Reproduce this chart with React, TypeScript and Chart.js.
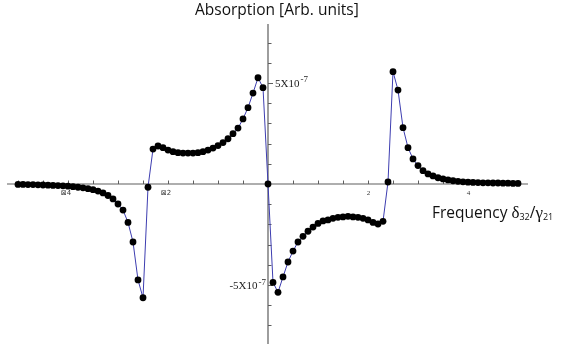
import React, { useEffect, useRef } from "react";
import { Chart, registerables } from "chart.js";

Chart.register(...registerables);

// Frequency δ32/γ21
const frequency = [
  -5.0, -4.9, -4.8, -4.7, -4.6, -4.5, -4.4, -4.3, -4.2, -4.1,
  -4.0, -3.9, -3.8, -3.7, -3.6, -3.5, -3.4, -3.3, -3.2, -3.1,
  -3.0, -2.9, -2.8, -2.7, -2.6, -2.5, -2.4, -2.3, -2.2, -2.1,
  -2.0, -1.9, -1.8, -1.7, -1.6, -1.5, -1.4, -1.3, -1.2, -1.1,
  -1.0, -0.9, -0.8, -0.7, -0.6, -0.5, -0.4, -0.3, -0.2, -0.1,
  0.0, 0.1, 0.2, 0.3, 0.4, 0.5, 0.6, 0.7, 0.8, 0.9,
  1.0, 1.1, 1.2, 1.3, 1.4, 1.5, 1.6, 1.7, 1.8, 1.9,
  2.0, 2.1, 2.2, 2.3, 2.4, 2.5, 2.6, 2.7, 2.8, 2.9,
  3.0, 3.1, 3.2, 3.3, 3.4, 3.5, 3.6, 3.7, 3.8, 3.9,
  4.0, 4.1, 4.2, 4.3, 4.4, 4.5, 4.6, 4.7, 4.8, 4.9,
  5.0,
];

// Absorption, in units of 1e-7 (arb.)
const absorption = [
  -0.02, -0.02, -0.03, -0.03, -0.04, -0.05, -0.06, -0.07, -0.08, -0.09,
  -0.11, -0.13, -0.16, -0.19, -0.23, -0.28, -0.35, -0.44, -0.57, -0.74,
  -0.99, -1.29, -1.90, -2.87, -4.75, -5.63, -0.16, 1.73, 1.88, 1.80,
  1.68, 1.60, 1.55, 1.53, 1.53, 1.53, 1.55, 1.60, 1.68, 1.78,
  1.90, 2.05, 2.24, 2.49, 2.77, 3.22, 3.78, 4.50, 5.26, 4.77,
  0.00, -4.87, -5.36, -4.60, -3.86, -3.32, -2.87, -2.59, -2.34, -2.13,
  -1.95, -1.83, -1.78, -1.70, -1.65, -1.63, -1.60, -1.63, -1.65, -1.70,
  -1.78, -1.90, -1.98, -1.85, 0.10, 5.56, 4.65, 2.79, 1.80, 1.24,
  0.91, 0.66, 0.50, 0.40, 0.31, 0.25, 0.20, 0.16, 0.13, 0.11,
  0.09, 0.08, 0.07, 0.06, 0.06, 0.05, 0.05, 0.04, 0.04, 0.03,
  0.03,
];

const xMinorTicks = [
  -5, -4.5, -4, -3.5, -3, -2.5, -2, -1.5, -1, -0.5,
  0.5, 1, 1.5, 2, 2.5, 3, 3.5, 4, 4.5, 5,
];
const xLabelValues = [-4, -2, 2, 4];
const xLabelTexts = ["\u22A04", "\u22A02", "2", "4"];

const yMinorTicks = [-7, -6, -5, -4, -3, -2, -1, 1, 2, 3, 4, 5, 6, 7];
const yLabelValues = [5, -5];
const yLabelMantissas = ["5X10", "-5X10"];
const yLabelExponent = "-7";

const titleText = "Absorption [Arb. units]";
const xTitleMain = "Frequency ";

const X_RANGE = 5.2;
const Y_RANGE = 7.92;

const axesPlugin = {
  id: "mathAxes",
  beforeDatasetsDraw(chart: any) {
    const ctx = chart.ctx as CanvasRenderingContext2D;
    const xs = chart.scales.x;
    const ys = chart.scales.y;
    const x0 = xs.getPixelForValue(0);
    const y0 = ys.getPixelForValue(0);
    ctx.save();
    ctx.strokeStyle = "#5e5e5e";
    ctx.lineWidth = 1.2;
    // axis lines
    ctx.beginPath();
    ctx.moveTo(xs.getPixelForValue(-X_RANGE) - 1, y0);
    ctx.lineTo(xs.getPixelForValue(X_RANGE), y0);
    ctx.moveTo(x0, ys.getPixelForValue(Y_RANGE));
    ctx.lineTo(x0, ys.getPixelForValue(-Y_RANGE));
    ctx.stroke();
    // ticks
    ctx.lineWidth = 1;
    ctx.beginPath();
    xMinorTicks.forEach((v) => {
      const px = Math.round(xs.getPixelForValue(v)) + 0.5;
      ctx.moveTo(px, y0);
      ctx.lineTo(px, y0 - 3.5);
    });
    yMinorTicks.forEach((v) => {
      const py = Math.round(ys.getPixelForValue(v)) + 0.5;
      const len = Math.abs(v) === 5 ? 5 : 3.5;
      ctx.moveTo(x0, py);
      ctx.lineTo(x0 + len, py);
    });
    ctx.stroke();

    // x tick labels
    ctx.fillStyle = "#333";
    ctx.font = "7px 'DejaVu Serif', serif";
    ctx.textAlign = "center";
    ctx.textBaseline = "alphabetic";
    xLabelValues.forEach((v, i) => {
      const px = xs.getPixelForValue(v);
      const shift = v < 0 ? -2 : 0.5;
      ctx.font = v < 0 ? "7px 'DejaVu Sans', sans-serif" : "7px 'Liberation Serif', serif";
      ctx.fillText(xLabelTexts[i], px + shift, y0 + 10.5);
    });

    // y tick labels
    ctx.fillStyle = "#222";
    yLabelValues.forEach((v, i) => {
      const py = ys.getPixelForValue(v);
      const mant = yLabelMantissas[i];
      ctx.font = "11px 'Liberation Serif', serif";
      const mw = ctx.measureText(mant).width;
      ctx.font = "9px 'Liberation Serif', serif";
      const ew = ctx.measureText(yLabelExponent).width;
      let left: number;
      if (v > 0) left = x0 + 7;
      else left = x0 - 2 - mw - ew - 1;
      ctx.textAlign = "left";
      ctx.font = "11px 'Liberation Serif', serif";
      ctx.fillText(mant, left, py + 4);
      ctx.font = "9px 'Liberation Serif', serif";
      ctx.fillText(yLabelExponent, left + mw + 1, py - 0.5);
    });
    ctx.restore();
  },
  afterDraw(chart: any) {
    const ctx = chart.ctx as CanvasRenderingContext2D;
    const xs = chart.scales.x;
    const ys = chart.scales.y;
    const x0 = xs.getPixelForValue(0);
    const y0 = ys.getPixelForValue(0);
    ctx.save();
    ctx.fillStyle = "#111";
    ctx.textBaseline = "alphabetic";
    // title
    ctx.textAlign = "left";
    ctx.font = "15.5px 'Open Sans', sans-serif";
    ctx.fillText(titleText, x0 - 73, 14.5);

    // x-axis title
    let cx = 432;
    const base = y0 + 34;
    ctx.font = "15.5px 'Open Sans', sans-serif";
    ctx.fillText(xTitleMain, cx, base);
    cx += ctx.measureText(xTitleMain).width;
    const parts: [string, string, number][] = [
      ["\u03B4", "17px 'Liberation Serif', serif", 0],
      ["32", "9px 'Open Sans', sans-serif", 1.5],
      ["/", "15.5px 'Open Sans', sans-serif", 0],
      ["\u03B3", "17px 'Liberation Serif', serif", 0],
      ["21", "9px 'Open Sans', sans-serif", 1.5],
    ];
    parts.forEach(([t, f, dy]) => {
      ctx.font = f;
      ctx.fillText(t, cx, base + dy);
      cx += ctx.measureText(t).width;
    });
    ctx.restore();
  },
};

export default function App() {
  const ref = useRef<HTMLCanvasElement | null>(null);
  useEffect(() => {
    if (!ref.current) return;
    const chart = new Chart(ref.current, {
      type: "scatter",
      data: {
        datasets: [
          {
            data: frequency.map((x, i) => ({ x, y: absorption[i] })),
            showLine: true,
            borderColor: "#3d3db0",
            borderWidth: 1,
            pointRadius: 3.4,
            pointBackgroundColor: "#000",
            pointBorderColor: "#000",
            pointBorderWidth: 0,
            pointHoverRadius: 3.4,
          },
        ],
      },
      options: {
        responsive: false,
        animation: false,
        devicePixelRatio: 1,
        layout: { padding: { left: 8, right: 44, top: 24, bottom: 7 } },
        scales: {
          x: { type: "linear", min: -X_RANGE, max: X_RANGE, display: false },
          y: { type: "linear", min: -Y_RANGE, max: Y_RANGE, display: false },
        },
        plugins: {
          legend: { display: false },
          tooltip: { enabled: false },
          title: { display: false },
        },
      },
      plugins: [axesPlugin],
    });
    return () => chart.destroy();
  }, []);
  return (
    <div style={{ position: "absolute", left: 0, top: 0, width: 572, height: 351, background: "#fff" }}>
      <canvas ref={ref} width={572} height={351} style={{ display: "block" }} />
    </div>
  );
}
